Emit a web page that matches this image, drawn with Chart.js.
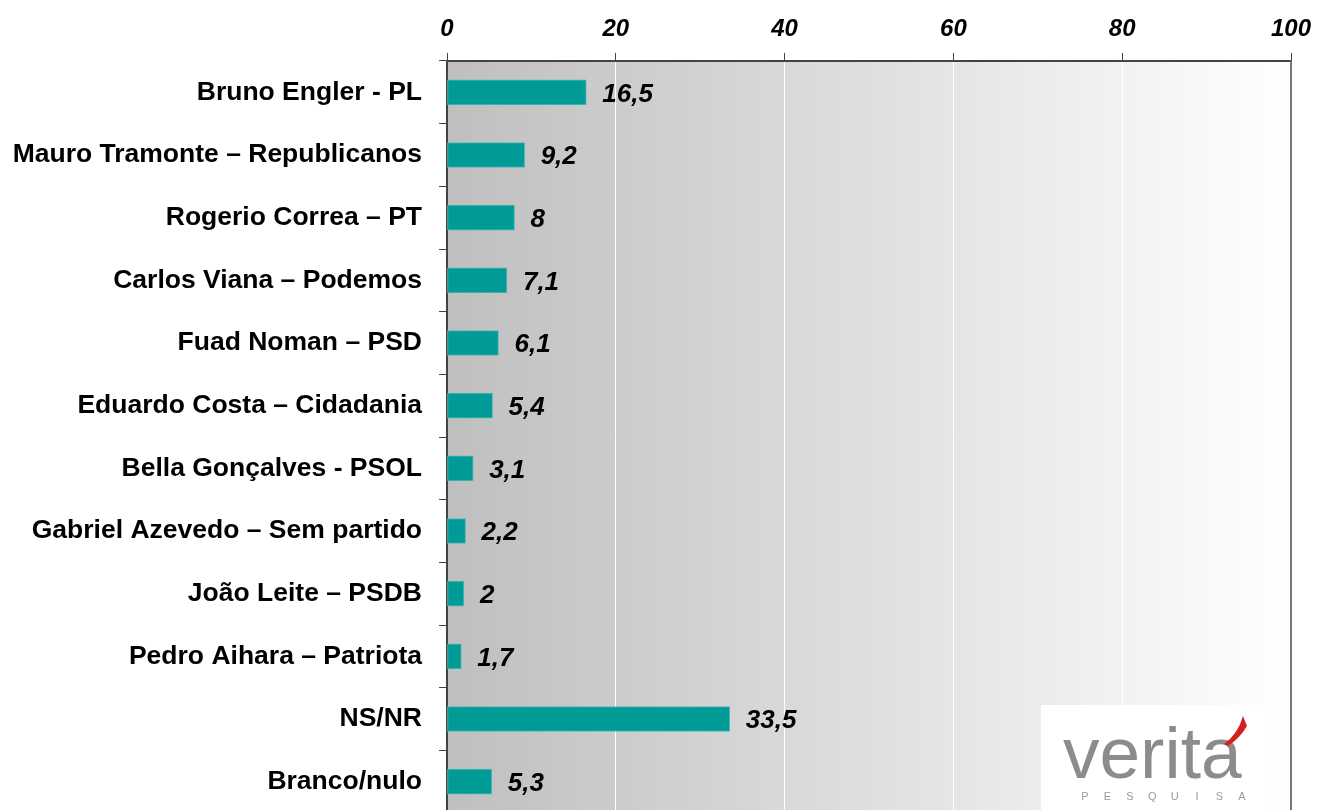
<!DOCTYPE html>
<html>
<head>
<meta charset="utf-8">
<script src="https://cdn.jsdelivr.net/npm/chart.js@4.4.1/dist/chart.umd.min.js"></script>
<style>
  html, body { margin: 0; padding: 0; background: #ffffff; overflow: hidden; }
  canvas { display: block; }
</style>
</head>
<body>
<canvas id="graficoIntencion" width="1317" height="813"></canvas>
<script>
/* ── DATOS ── */
var categorias = [
    'Bruno Engler - PL',
    'Mauro Tramonte \u2013 Republicanos',
    'Rogerio Correa \u2013 PT',
    'Carlos Viana \u2013 Podemos',
    'Fuad Noman \u2013 PSD',
    'Eduardo Costa \u2013 Cidadania',
    'Bella Gon\u00e7alves - PSOL',
    'Gabriel Azevedo \u2013 Sem partido',
    'Jo\u00e3o Leite \u2013 PSDB',
    'Pedro Aihara \u2013 Patriota',
    'NS/NR',
    'Branco/nulo'
];
var valores = [16.5, 9.2, 8, 7.1, 6.1, 5.4, 3.1, 2.2, 2, 1.7, 33.5, 5.3];
var ejeMin = 0;
var ejeMax = 100;
var ejePaso = 20;

var fuente = "'Liberation Sans', Arial, sans-serif";

/* Fondo degradado gris → blanco dentro del área del gráfico */
var pluginFondo = {
    id: 'fondo',
    beforeDraw: function (chart) {
        var a = chart.chartArea;
        var ctx = chart.ctx;
        var g = ctx.createLinearGradient(a.left, 0, a.right, 0);
        g.addColorStop(0, '#bfbfbf');
        g.addColorStop(1, '#ffffff');
        ctx.save();
        ctx.fillStyle = g;
        ctx.fillRect(a.left, a.top, a.right - a.left, a.bottom - a.top);
        ctx.restore();
    }
};

/* Etiquetas de valor al final de cada barra (coma decimal) */
var pluginValores = {
    id: 'valores',
    afterDatasetsDraw: function (chart) {
        var ctx = chart.ctx;
        var meta = chart.getDatasetMeta(0);
        ctx.save();
        ctx.font = 'italic bold 26px ' + fuente;
        ctx.fillStyle = '#000000';
        ctx.textAlign = 'left';
        ctx.textBaseline = 'middle';
        meta.data.forEach(function (barra, i) {
            var txt = String(valores[i]).replace('.', ',');
            ctx.fillText(txt, barra.x + 16, barra.y + 2);
        });
        ctx.restore();
    }
};

/* Borde derecho y logotipo */
var pluginMarco = {
    id: 'marco',
    afterDraw: function (chart) {
        var a = chart.chartArea;
        var ctx = chart.ctx;
        ctx.save();
        ctx.strokeStyle = '#777777';
        ctx.lineWidth = 2;
        ctx.beginPath();
        ctx.moveTo(a.right, a.top);
        ctx.lineTo(a.right, a.bottom);
        ctx.stroke();

        /* logotipo */
        ctx.fillStyle = '#ffffff';
        ctx.fillRect(1041, 705, 229, 110);
        ctx.fillStyle = '#8c8c8c';
        ctx.font = '73px ' + fuente;
        ctx.textAlign = 'left';
        ctx.textBaseline = 'alphabetic';
        ctx.fillText('verita', 1063, 778);
        ctx.fillStyle = '#d42020';
        ctx.beginPath();
        ctx.moveTo(1224, 744);
        ctx.quadraticCurveTo(1238, 734, 1243, 716);
        ctx.lineTo(1247, 726);
        ctx.quadraticCurveTo(1240, 738, 1228, 746);
        ctx.closePath();
        ctx.fill();
        ctx.fillStyle = '#9a9a9a';
        ctx.font = '11px ' + fuente;
        ctx.textAlign = 'center';
        var letras = 'PESQUISA'.split('');
        letras.forEach(function (l, i) {
            ctx.fillText(l, 1085 + i * 22.4, 800);
        });
        ctx.restore();
    }
};

new Chart(document.getElementById('graficoIntencion'), {
    type: 'bar',
    data: {
        labels: categorias,
        datasets: [{
            data: valores,
            backgroundColor: '#009a97',
            borderColor: '#4fb9b6',
            borderWidth: 1,
            borderSkipped: false,
            barThickness: 25
        }]
    },
    options: {
        indexAxis: 'y',
        responsive: false,
        animation: false,
        layout: { padding: { top: 0, right: 26, bottom: 0, left: 0 } },
        plugins: {
            legend: { display: false },
            tooltip: { enabled: false }
        },
        scales: {
            x: {
                position: 'top',
                min: ejeMin,
                max: ejeMax,
                afterFit: function (s) {
                    s.height = 61;
                    s.paddingLeft = 0;
                    s.paddingRight = 0;
                },
                ticks: {
                    stepSize: ejePaso,
                    color: '#000000',
                    padding: 9,
                    font: { family: fuente, size: 24, weight: 'bold', style: 'italic' }
                },
                grid: {
                    color: '#ffffff',
                    lineWidth: 1,
                    tickColor: '#444444',
                    tickLength: 8
                },
                border: { color: '#444444', width: 2 }
            },
            y: {
                afterFit: function (s) {
                    s.width = 447;
                    s.paddingTop = 0;
                    s.paddingBottom = 0;
                },
                ticks: {
                    color: '#000000',
                    padding: 17,
                    font: { family: fuente, size: 26.5, weight: 'bold' }
                },
                grid: {
                    offset: true,
                    drawOnChartArea: false,
                    tickColor: '#444444',
                    tickLength: 8
                },
                border: { color: '#444444', width: 2 }
            }
        }
    },
    plugins: [pluginFondo, pluginValores, pluginMarco]
});
</script>
</body>
</html>
